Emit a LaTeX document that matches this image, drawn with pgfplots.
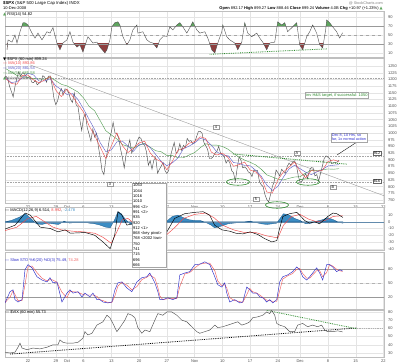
\documentclass[border=0pt]{standalone}
\usepackage{pgfplots}
\pgfplotsset{compat=1.18}
\usepackage{pgfplotstable}
\usetikzlibrary{shapes.geometric}
\usepackage{fontspec}
\setmainfont{Liberation Sans}
\newfontfamily\symf{DejaVu Sans}
\definecolor{gridc}{HTML}{E4E4E4}
\definecolor{pricec}{HTML}{505050}
\definecolor{mared}{HTML}{F04848}
\definecolor{mablue}{HTML}{5A5AC8}
\definecolor{magreen}{HTML}{4C9A4C}
\definecolor{rsigreen}{HTML}{5EA55E}
\definecolor{rsired}{HTML}{8E3F3F}
\definecolor{histc}{HTML}{3C8DC4}
\definecolor{histd}{HTML}{1F5A8A}
\definecolor{stoblue}{HTML}{2B2BC8}
\definecolor{stored}{HTML}{F06060}
\definecolor{labc}{HTML}{505050}
\definecolor{annog}{HTML}{2E8B2E}
\definecolor{annob}{HTML}{3030D0}
\newcommand{\tf}{\fontsize{4}{4.8}\selectfont}
\pgfplotsset{
  panel/.style={
    scale only axis, width=379pt,
    xmin=0.86, xmax=69.1,
    axis line style={gray!50, line width=0.3pt},
    major tick length=0pt,
    grid=major, grid style={gridc, line width=0.3pt},
    xtick={5,10,12,15,20,25,30,35,40,45,50,54,59,64,69},
    xticklabels={22,29,Oct,6,13,20,27,Nov,10,17,24,Dec,8,15,22},
    yticklabel pos=right,
    ticklabel style={font=\tf, text=labc},
    /pgf/number format/assume math mode=true,
    /pgf/number format/1000 sep={},
    yticklabel style={xshift=0.5pt},
    xticklabel style={yshift=0.8pt},
  },
  nox/.style={xticklabels={}},
}

\pgfplotstableread{
px v
7 17
8 39
12 34
15 50
17 32
20 57
23 77
25 77
28 72
32 54
35 43
38 54
42 39
47 57
50 54
53 66
57 32
60 17
63 32
67 39
70 57
73 34
77 23
80 28
83 12
88 46
93 32
97 34
100 23
105 10
107 17
110 39
112 68
115 77
118 79
120 72
123 46
127 28
130 39
133 61
137 72
138 54
143 57
147 39
150 34
153 32
157 21
160 39
163 46
167 46
170 68
173 61
177 72
180 77
183 68
187 54
190 66
193 79
197 61
200 54
205 57
208 43
212 17
215 10
218 32
222 57
223 72
227 46
230 39
235 32
238 17
242 34
245 77
248 54
252 46
257 54
260 43
263 34
267 17
270 32
275 34
278 79
282 72
285 77
288 57
293 68
297 77
300 28
303 17
307 46
310 57
313 72
317 54
320 28
323 21
326 61
327 83
330 77
333 68
337 57
340 43
343 54.8
}\rsidata

\pgfplotstableread{
px k d
5 7 8
10 31 19
13 35 33
15 14 25
18 9 12
22 14 12
25 78 46
28 89 84
32 82 86
37 63 72
42 56 60
47 52 54
50 61 57
53 50 56
57 52 51
62 9 30
67 28 18
70 35 32
73 28 31
78 31 30
82 20 26
85 28 24
90 20 24
93 28 24
97 14 21
100 14 14
103 9 12
108 7 8
112 9 8
115 35 22
118 50 43
122 52 51
127 39 45
132 31 35
137 52 42
142 61 57
147 63 62
150 71 67
155 50 60
158 31 40
160 14 22
163 14 14
168 18 16
173 14 16
177 18 16
180 67 42
185 71 69
190 74 72
195 89 82
200 90 90
205 95 92
210 89 92
215 63 76
218 46 54
222 41 44
225 50 46
227 28 39
230 9 18
235 14 12
240 7 10
243 9 8
247 41 25
250 35 38
253 28 31
257 28 28
260 20 24
263 18 19
267 9 13
270 14 12
273 7 10
277 14 10
280 52 33
283 63 58
288 67 65
293 74 70
297 84 79
300 78 81
303 63 70
307 56 60
310 63 60
313 71 67
317 82 76
320 71 76
323 56 63
327 89 72
330 89 89
333 84 86
337 74 79
340 78 76
343 75.5 74.3
}\stodata

\pgfplotstableread{
px v
5 31
10 30
15 31
18 37
20 42
22 36
27 34
33 36
40 35
47 37
53 40
58 40
60 46
63 43
67 42
73 42
78 43
83 48
85 56
88 52
92 54
97 64
100 66
103 68
107 76
110 73
113 66
117 56
120 61
125 70
128 78
132 76
135 73
138 61
142 54
145 58
150 56
155 70
158 78
163 76
167 80
172 80
177 76
182 70
187 68
192 62
197 56
200 54
205 56
210 58
215 64
218 61
223 62
228 64
233 66
238 68
242 64
247 66
250 68
253 73
258 74
263 76
267 80
270 78
272 82
275 76
277 66
280 64
285 62
290 56
295 56
298 64
303 66
308 62
313 64
318 62
322 64
325 58
328 56
333 56
338 57
343 55.7
}\vixdata

\begin{document}
\begin{tikzpicture}
\fill[white] (0,0) rectangle (400pt,-364pt);
\path[use as bounding box] (0,0) rectangle (400pt,-364pt);

% ---------------- RSI ----------------
\begin{axis}[panel, nox, at={(5pt,-11pt)}, anchor=north west, height=46pt,
  ymin=1, ymax=103, ytick={10,30,50,70,90}]
\begin{scope}
\clip (axis cs:0,70) rectangle (axis cs:70,110);
\addplot[fill=rsigreen, draw=none] table[x expr=(\thisrow{px}-0.2)/5.56, y=v]{\rsidata} -- (axis cs:61.7,0) -- (axis cs:1.2,0) -- cycle;
\end{scope}
\begin{scope}
\clip (axis cs:0,-10) rectangle (axis cs:70,30);
\addplot[fill=rsired, draw=none] table[x expr=(\thisrow{px}-0.2)/5.56, y=v]{\rsidata} -- (axis cs:61.7,110) -- (axis cs:1.2,110) -- cycle;
\end{scope}
\addplot[gray!80, line width=0.4pt] coordinates {(0,70) (70,70)};
\addplot[gray!80, line width=0.4pt] coordinates {(0,30) (70,30)};
\addplot[gray!70, dashed, line width=0.3pt] coordinates {(0,50) (70,50)};
\addplot[pricec, line width=0.4pt] table[x expr=(\thisrow{px}-0.2)/5.56, y=v]{\rsidata};
\addplot[annog, densely dotted, line width=0.8pt] coordinates {(37.7,7) (58.8,19)};
\end{axis}

% ---------------- Price ----------------
\begin{axis}[panel, at={(5pt,-58pt)}, anchor=north west, height=145pt,
  ymin=739, ymax=1280, ytick={750,775,...,1250},
  xticklabels={22,29,Oct,6,13,,27,Nov,10,17,24,Dec,8,15,22}]
\addplot[gray!70, densely dotted, line width=0.6pt] coordinates {(0,1205) (70,1205)};
\addplot[gray!70, densely dotted, line width=0.6pt] coordinates {(0,912) (70,912)};
\addplot[gray!70, densely dotted, line width=0.6pt] coordinates {(0,816) (70,816)};
\addplot[gray!85, line width=0.35pt] coordinates {(5.4,1254) (69.1,766)};
\addplot[pricec, line width=0.45pt] coordinates {
(-0.67,1235) (-0.33,1200) (0,1193)
(0.33,1170) (0.67,1195) (1,1212)
(1.33,1205) (1.67,1175) (2,1156)
(2.33,1135) (2.67,1175) (3,1205)
(3.33,1228) (3.67,1212) (4,1225)
(4.33,1222) (4.67,1210) (5,1207)
(5.33,1211) (5.67,1190) (6,1188)
(6.33,1196) (6.67,1180) (7,1186)
(7.33,1192) (7.67,1214) (8,1209)
(8.33,1190) (8.67,1212) (9,1213)
(9.33,1180) (9.67,1130) (10,1106)
(10.33,1120) (10.67,1150) (11,1166)
(11.33,1142) (11.67,1165) (12,1161)
(12.33,1150) (12.67,1125) (13,1114)
(13.33,1150) (13.67,1105) (14,1099)
(14.33,1050) (14.67,1010) (15,1057)
(15.33,1070) (15.67,1020) (16,996)
(16.33,970) (16.67,1015) (17,985)
(17.33,1000) (17.67,950) (18,910)
(18.33,860) (18.67,845) (19,899)
(19.33,935) (19.67,980) (20,1003)
(20.33,1040) (20.67,1000) (21,998)
(21.33,980) (21.67,940) (22,908)
(22.33,870) (22.67,920) (23,946)
(23.33,975) (23.67,925) (24,941)
(24.33,950) (24.67,970) (25,985)
(25.33,980) (25.67,960) (26,955)
(26.33,930) (26.67,880) (27,897)
(27.33,865) (27.67,900) (28,908)
(28.33,850) (28.67,865) (29,877)
(29.33,890) (29.67,860) (30,849)
(30.33,860) (30.67,915) (31,941)
(31.33,965) (31.67,925) (32,930)
(32.33,960) (32.67,935) (33,954)
(33.33,945) (33.67,980) (34,969)
(34.33,972) (34.67,960) (35,966)
(35.33,985) (35.67,1005) (36,1006)
(36.33,1000) (36.67,965) (37,953)
(37.33,940) (37.67,905) (38,905)
(38.33,912) (38.67,925) (39,931)
(39.33,950) (39.67,925) (40,919)
(40.33,912) (40.67,888) (41,899)
(41.33,890) (41.67,860) (42,852)
(42.33,820) (42.67,870) (43,911)
(43.33,900) (43.67,870) (44,873)
(44.33,868) (44.67,855) (45,851)
(45.33,838) (45.67,862) (46,859)
(46.33,860) (46.67,820) (47,807)
(47.33,800) (47.67,770) (48,752)
(48.33,743) (48.67,770) (49,800)
(49.33,820) (49.67,862) (50,852)
(50.33,840) (50.67,865) (51,857)
(51.33,850) (51.67,875) (52,888)
(52.33,880) (52.67,893) (53,896)
(53.33,880) (53.67,840) (54,816)
(54.33,820) (54.67,835) (55,849)
(55.33,830) (55.67,860) (56,871)
(56.33,870) (56.67,840) (57,845)
(57.33,820) (57.67,850) (58,876)
(58.33,905) (58.67,915) (59,910)
(59.33,905) (59.67,886) (60,889)
(60.33,890) (60.67,892) (61,899)
};
\addplot[magreen, line width=0.4pt] coordinates {
(1,1240) (2,1228) (3,1215) (4,1210) (5,1207) (6,1203) (7,1202) (8,1201) (9,1209)
(10,1195) (11,1182) (12,1176) (13,1165) (14,1153) (15,1131) (16,1100) (17,1083)
(18,1046) (19,1009) (20,993) (21,978) (22,957) (23,950) (24,944) (25,954) (26,962)
(27,947) (28,934) (29,930) (30,916) (31,916) (32,908) (33,908) (34,918) (35,927)
(36,945) (37,960) (38,955) (39,955) (40,950) (41,940) (42,924) (43,910) (44,899)
(45,891) (46,881) (47,865) (48,844) (49,836) (50,828) (51,825) (52,831) (53,836)
(54,837) (55,851) (56,861) (57,860) (58,863) (59,866) (60,865) (61,867)
};
\addplot[mablue, line width=0.4pt] coordinates {
(1,1205) (2,1188) (3,1192) (4,1206) (5,1223) (6,1217) (7,1194) (8,1194) (9,1203)
(10,1176) (11,1162) (12,1144) (13,1147) (14,1125) (15,1090) (16,1051) (17,1013)
(18,964) (19,931) (20,937) (21,967) (22,970) (23,951) (24,932) (25,957) (26,960)
(27,946) (28,920) (29,894) (30,878) (31,889) (32,907) (33,942) (34,951) (35,963)
(36,980) (37,975) (38,955) (39,930) (40,918) (41,916) (42,890) (43,887) (44,879)
(45,878) (46,861) (47,839) (48,806) (49,786) (50,801) (51,836) (52,866) (53,880)
(54,867) (55,854) (56,845) (57,855) (58,864) (59,877) (60,880) (61,882)
};
\addplot[mared, line width=0.4pt] coordinates {
(1,1203) (2,1185) (3,1182) (4,1215) (5,1216) (6,1198) (7,1187) (8,1198) (9,1211)
(10,1160) (11,1136) (12,1164) (13,1138) (14,1107) (15,1078) (16,1027) (17,991)
(18,948) (19,905) (20,951) (21,1001) (22,953) (23,927) (24,944) (25,963) (26,970)
(27,926) (28,903) (29,893) (30,863) (31,895) (32,936) (33,942) (34,962) (35,968)
(36,986) (37,980) (38,929) (39,918) (40,925) (41,909) (42,876) (43,882) (44,892)
(45,862) (46,855) (47,833) (48,780) (49,776) (50,826) (51,855) (52,873) (53,892)
(54,856) (55,833) (56,860) (57,858) (58,861) (59,893) (60,900) (61,894)
};
\addplot[annog, densely dotted, line width=0.9pt] coordinates {(41.9,922) (62.4,884)};
\end{axis}

% ---------------- MACD ----------------
\begin{axis}[panel, nox, at={(5pt,-207pt)}, anchor=north west, height=43pt,
  ymin=-42, ymax=22, ytick={-40,-30,...,10}]
\addplot[fill=histc, draw=histd, line width=0.3pt] coordinates {
(0.86,0) (2,2) (3.5,7) (4.5,12) (5.5,5) (6.5,-3) (7.5,-4) (8.5,-2) (9.5,-3)
(10.5,-4) (11.5,1) (12.5,-2) (13.5,-1) (15,0) (16,-2) (17,-3) (18,-5) (19,-8)
(19.8,-9) (20.6,3) (21.2,15) (21.8,12) (22.5,4) (23.5,-4) (25,-2) (26,1) (27,-3)
(28,-4) (29,-2) (30,1) (31,8) (32,10) (33,6) (34,3) (35,2) (36,2) (37,-1) (38,-5)
(38.6,-9) (40,-6) (41,-3) (42,-2) (43,-1) (44,0) (45,1) (46,-1) (47,-3) (48,-4)
(49,-3) (49.8,-2) (50.3,4) (51,12) (52,10) (53,5) (54,2) (55,-3) (56,-2) (57,1)
(58,3) (59,6) (60,3) (61,-1) (61.7,-2) (61.7,0)
} -- cycle;
\addplot[histd!70, line width=0.4pt] coordinates {(0,0) (70,0)};
\addplot[mared, line width=0.45pt] coordinates {
(0.5,-14) (3,-8) (5,5) (6.5,8) (8,0) (9.5,-8) (11,-12) (13,-14) (15,-15) (17,-17)
(18.5,-23) (20,-32) (21,-15) (22,3) (23,5) (24,-2) (26,-10) (28,-18) (30,-19)
(31.5,-8) (33,5) (35,11) (37,13) (38.5,6) (40,-5) (42,-12) (44,-16) (46,-16)
(48,-21) (50,-24) (51,-5) (52.5,8) (54,11) (55.5,4) (57,0) (58.5,2) (60,8) (61.7,9)
};
\addplot[black, line width=0.45pt] coordinates {
(0.5,-12) (2.7,-5) (4.5,13) (5.4,10) (7.2,-8) (9,-10) (10.4,-15) (11.7,-12)
(12.6,-17) (15.3,-16) (17,-20) (18.5,-30) (19.8,-40) (20.6,-20) (21.2,15)
(21.9,10) (22.8,-5) (23.7,-3) (25.1,-8) (27,-20) (28.7,-22) (30,-15) (31.4,5)
(33.2,12) (35,14) (36.5,15) (37.7,10) (38.6,-5) (39.9,-12) (41.3,-14) (42.4,-17)
(43.7,-18) (45,-15) (46.4,-19) (47.6,-25) (48.9,-30) (49.8,-28) (50.3,-10)
(50.9,8) (52.1,12) (53.4,14) (53.9,10) (54.8,2) (55.7,-2) (56.6,0) (57.5,-3)
(59,8) (59.9,13) (60.6,12) (61.7,6.5)
};
\end{axis}

% ---------------- Slow STO ----------------
\begin{axis}[panel, nox, at={(5pt,-252pt)}, anchor=north west, height=57pt,
  ymin=-6, ymax=116, ytick={20,50,80}]
\addplot[gray!80, line width=0.4pt] coordinates {(0,80) (70,80)};
\addplot[gray!80, line width=0.4pt] coordinates {(0,20) (70,20)};
\addplot[gray!60, dashed, line width=0.4pt] coordinates {(0,50) (70,50)};
\addplot[stored, line width=0.45pt] table[x expr=(\thisrow{px}-0.2)/5.56, y=d]{\stodata};
\addplot[stoblue, line width=0.45pt] table[x expr=(\thisrow{px}-0.2)/5.56, y=k]{\stodata};
\end{axis}

% ---------------- VIX ----------------
\begin{axis}[panel, at={(5pt,-310pt)}, anchor=north west, height=47pt,
  ymin=25.1, ymax=82.4, ytick={30,40,...,80}]
\addplot[black, densely dotted, line width=0.8pt] coordinates {(1.8,28.7) (64.2,60.5)};
\addplot[gray!60, densely dotted, line width=0.8pt] coordinates {(64.2,60.5) (69,60.5)};
\addplot[annog, densely dotted, line width=0.8pt] coordinates {(48,82) (64.2,59.5)};
\addplot[pricec, line width=0.45pt] table[x expr=(\thisrow{px}-0.2)/5.56, y=v]{\vixdata};
\end{axis}

% ---------------- texts and annotations ----------------
\node[anchor=west, font=\fontsize{4.3}{5}\selectfont, inner sep=0pt] at (3pt,-3pt) {\textbf{\$SPX} (S\&P 500 Large Cap Index) INDX};
\node[anchor=west, font=\tf, inner sep=0pt] at (3pt,-8pt) {10-Dec-2008};
\node[anchor=west, font=\tf, inner sep=0pt] at (3pt,-14pt) {{\symf\color{rsigreen}▲} RSI(14) 54.82};
\node[anchor=east, font=\fontsize{3.8}{4.5}\selectfont, text=gray, inner sep=0pt] at (383pt,-3pt) {@ StockCharts.com};
\node[anchor=east, font=\tf, inner sep=0pt] at (383pt,-8.5pt) {\textbf{Open} 892.17 \textbf{High} 899.27 \textbf{Low} 888.46 \textbf{Close} 899.24 \textbf{Volume} 4.0B \textbf{Chg} +10.97 (+1.23\%) {\symf\color{rsigreen}▲}};

\node[anchor=north west, font=\tf, inner sep=0pt, align=left] at (3pt,-57pt) {%
{\symf ▼} \$SPX (60 min) 899.24\\
{\color{mared}— MA(10) 893.86}\\
{\color{mablue}— MA(20) 881.54}\\
{\color{magreen}— MA(50) 865.58}\\
{\symf\color{rsigreen}▲}{\color{gray} Volume undef}};

\node[anchor=west, font=\tf, inner sep=0pt] at (5pt,-210.5pt) {— MACD(12,26,9) 6.514, {\color{mared}8.992}, {\color{histc}-2.478}};
\node[anchor=west, font=\tf, inner sep=0pt] at (5pt,-260pt) {{\color{stoblue}— Slow STO \%K(20) \%D(3) 75.49,} {\color{stored}74.28}};
\node[anchor=west, font=\tf, inner sep=0pt] at (5pt,-312.5pt) {— \$VIX (60 min) 55.73};

\node[draw=gray!70, fill=white, font=\tf, text=annog, inner sep=0.8pt, line width=0.3pt] at (337pt,-95pt) {inv H\&S target, if successful: 1050};
\draw[black, line width=0.35pt] (357pt,-142pt) -- (337pt,-155pt);
\node[draw=gray!70, fill=white, font=\fontsize{3.8}{4.4}\selectfont, text=annob, inner sep=0.8pt, align=left, line width=0.3pt] at (349pt,-137.5pt) {Dec 8, 10 Hrs, so\\far, 1x normal action};

\foreach \t/\x/\y in {912/377/153, 816/377/181}{
  \node[draw=gray!80!black, fill=white, font=\fontsize{3.8}{4.4}\selectfont, inner sep=0.7pt, line width=0.35pt] at (\x pt,-\y pt) {\t};
}
\foreach \t/\x/\y in {3/110/184, 4/216/127, 5/256/199, A/297/153, B/333/187}{
  \node[draw=gray!80, fill=white, font=\fontsize{3.8}{4.4}\selectfont, inner sep=0.8pt, minimum width=6pt, line width=0.3pt] at (\x pt,-\y pt) {\t};
}
\foreach \x/\y in {238/182, 308/182, 277/205}{
  \node[draw=annog, ellipse, line width=0.6pt, minimum width=23pt, minimum height=6.5pt, inner sep=0pt] at (\x pt,-\y pt) {};
}

\node[draw=gray!70, fill=white, anchor=north west, inner sep=1pt, align=left,
  font=\fontsize{4}{5.3}\selectfont, text width=32pt, line width=0.3pt] at (132pt,-183pt) {%
1053\\1044\\1016\\1010\\996 <2>\\991 <2>\\935\\920\\912 <1>\\868 <key pivot>\\768 <2002 low>\\750\\741\\715\\696\\666};
\end{tikzpicture}
\end{document}
